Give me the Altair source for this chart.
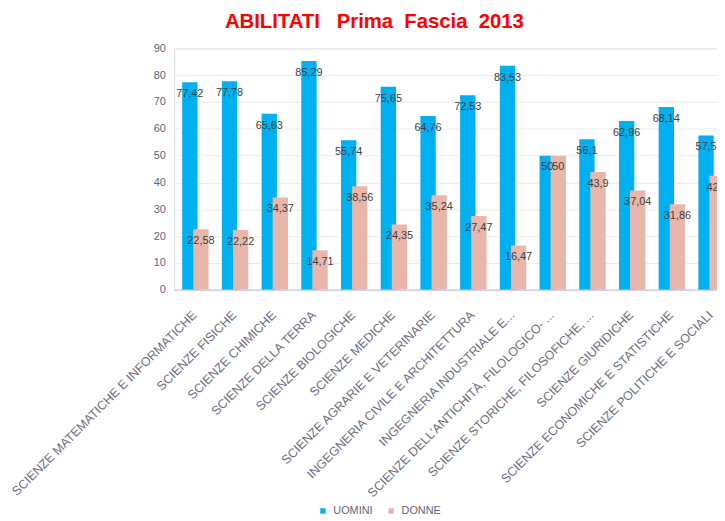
import altair as alt
import pandas as pd

categorie = [
    "SCIENZE MATEMATICHE E INFORMATICHE",
    "SCIENZE FISICHE",
    "SCIENZE CHIMICHE",
    "SCIENZE DELLA TERRA",
    "SCIENZE BIOLOGICHE",
    "SCIENZE MEDICHE",
    "SCIENZE AGRARIE E VETERINARIE",
    "INGEGNERIA CIVILE E ARCHITETTURA",
    "INGEGNERIA INDUSTRIALE E...",
    "SCIENZE DELL'ANTICHITÀ, FILOLOGICO- ...",
    "SCIENZE STORICHE, FILOSOFICHE, ...",
    "SCIENZE GIURIDICHE",
    "SCIENZE ECONOMICHE E STATISTICHE",
    "SCIENZE POLITICHE E SOCIALI",
]
uomini = [77.42, 77.78, 65.63, 85.29, 55.74, 75.65, 64.76, 72.53, 83.53, 50, 56.1, 62.96, 68.14, 57.5]
donne = [22.58, 22.22, 34.37, 14.71, 38.56, 24.35, 35.24, 27.47, 16.47, 50, 43.9, 37.04, 31.86, 42.5]
serie = ["UOMINI", "DONNE"]
colori = ["#00B0F0", "#E8B6AA"]

n = len(categorie)
df = pd.DataFrame({
    "categoria": categorie * 2,
    "genere": [serie[0]] * n + [serie[1]] * n,
    "valore": uomini + donne,
})

FONT = "Liberation Sans"

x = alt.X(
    "categoria:N",
    sort=categorie,
    scale=alt.Scale(range=[0, 565], paddingInner=0, paddingOuter=0.035),
    axis=alt.Axis(
        title=None, labelAngle=-45, labelAlign="right", labelBaseline="top",
        labelFontSize=12.6, labelColor="#6E6E85", labelLimit=0, ticks=False,
        domainColor="#CFCFDF", domainWidth=1.5, labelPadding=19, labelOffset=-5,
        grid=False, labelFont=FONT,
    ),
)
y = alt.Y(
    "valore:Q",
    scale=alt.Scale(domain=[0, 90], nice=False),
    axis=alt.Axis(
        title=None, values=list(range(0, 100, 10)), grid=True, gridColor="#EBEBEB",
        domain=False, ticks=False, labelFontSize=11, labelColor="#65657A",
        labelPadding=9, labelFont=FONT,
    ),
)
color = alt.Color(
    "genere:N",
    scale=alt.Scale(domain=serie, range=colori),
    legend=alt.Legend(
        title=None, orient="none", legendX=145, legendY=462, direction="horizontal",
        symbolType="square", symbolSize=30, symbolStrokeWidth=0,
        labelFontSize=11, labelColor="#65657A", labelOffset=5, columnPadding=13,
        padding=0, labelFont=FONT,
    ),
)

base = alt.Chart(df).transform_calculate(
    etichetta="replace(toString(datum.valore), '.', ',')"
)

OFF = 5.6
BW = 15.5

bar_u = base.transform_filter(alt.datum.genere == "UOMINI").mark_bar(
    width=BW, xOffset=-OFF, clip=True
).encode(x=x, y=y, color=color)
bar_d = base.transform_filter(alt.datum.genere == "DONNE").mark_bar(
    width=BW, xOffset=OFF, clip=True
).encode(x=x, y=y, color=color)
txt_u = base.transform_filter(alt.datum.genere == "UOMINI").mark_text(
    xOffset=-OFF, dy=12, baseline="middle", fontSize=11, color="#404040", font=FONT, clip=True
).encode(x=x, y=y, text="etichetta:N")
txt_d = base.transform_filter(alt.datum.genere == "DONNE").mark_text(
    xOffset=OFF, dy=12, baseline="middle", fontSize=11, color="#404040", font=FONT, clip=True
).encode(x=x, y=y, text="etichetta:N")

chart = alt.layer(bar_u, bar_d, txt_u, txt_d).properties(
    width=549,
    height=244,
    title=alt.TitleParams(
        text="ABILITATI \u00a0 Prima \u00a0Fascia \u00a02013",
        fontSize=20.5, font=FONT, fontWeight="bold", color="#FF0000",
        anchor="middle", frame="group", dx=-72, dy=18, offset=12, baseline="alphabetic",
    ),
    autosize=alt.AutoSizeParams(type="none"),
    padding={"left": 168, "top": 38, "right": 0, "bottom": 225},
).configure_view(stroke=None).configure(font=FONT)

chart.save("out.html", embed_options={"renderer": "svg", "actions": False})
